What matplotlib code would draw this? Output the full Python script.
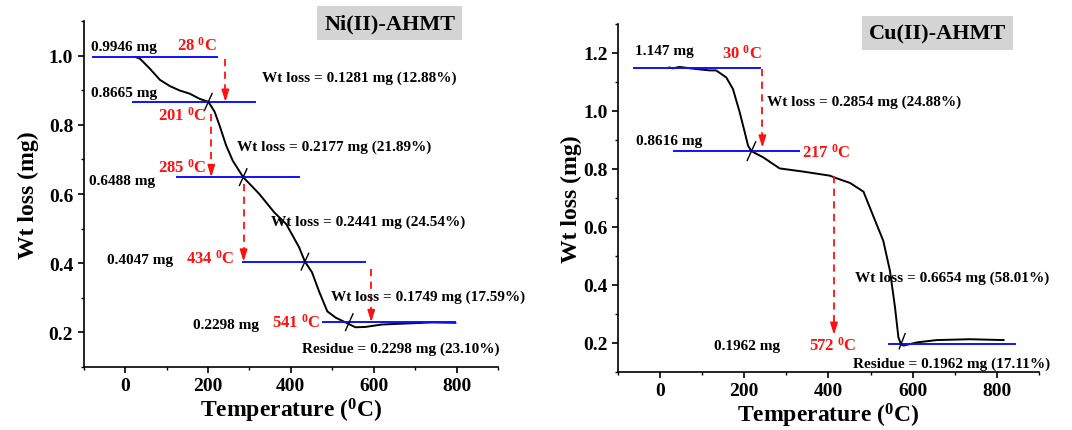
import numpy as np
import matplotlib
matplotlib.use('Agg')
import matplotlib.pyplot as plt
from matplotlib.ticker import MultipleLocator

plt.rcParams['font.family'] = ['Liberation Serif', 'DejaVu Serif']
plt.rcParams['font.weight'] = 'bold'
plt.rcParams['mathtext.default'] = 'regular'

# Ni(II)-AHMT TGA curve
ni_temp = [28, 36, 60, 84, 108, 132, 156, 180, 201, 216, 228, 244, 260, 285, 324, 360,
           389, 420, 434, 451, 468, 488, 508, 532, 556, 580, 620, 680, 740, 797]
ni_wt = [0.9946, 0.991, 0.962, 0.930, 0.912, 0.899, 0.890, 0.875, 0.8665, 0.838, 0.798,
         0.740, 0.696, 0.6488, 0.600, 0.547, 0.513, 0.446, 0.4047, 0.374, 0.319, 0.261,
         0.243, 0.229, 0.215, 0.216, 0.223, 0.226, 0.229, 0.228]

# Cu(II)-AHMT TGA curve
cu_temp = [22, 30, 46, 78, 117, 133, 157, 173, 189, 201, 209, 217, 245, 284, 340, 403,
           423, 451, 483, 498, 506, 530, 546, 558, 566, 572, 578, 610, 657, 736, 816]
cu_wt = [1.150, 1.147, 1.152, 1.146, 1.140, 1.140, 1.116, 1.076, 0.996, 0.927, 0.880,
         0.8616, 0.840, 0.802, 0.791, 0.777, 0.766, 0.752, 0.722, 0.668, 0.639, 0.553,
         0.449, 0.323, 0.220, 0.1962, 0.191, 0.202, 0.210, 0.213, 0.210]

# step levels (mg) and onset temperatures
ni_levels = [0.9946, 0.8665, 0.6488, 0.4047, 0.2298]
ni_steps = [28, 201, 285, 434, 541]
ni_level_span = [(-77, 221), (19, 314), (125, 420), (284, 580), (478, 797)]
ni_losses = ['Wt loss = 0.1281 mg (12.88%)', 'Wt loss = 0.2177 mg (21.89%)',
             'Wt loss = 0.2441 mg (24.54%)', 'Wt loss = 0.1749 mg (17.59%)',
             'Residue = 0.2298 mg (23.10%)']

cu_levels = [1.147, 0.8616, 0.1962]
cu_steps = [30, 217, 572]
cu_level_span = [(-61, 238), (32, 330), (544, 843)]
cu_losses = ['Wt loss = 0.2854 mg (24.88%)', 'Wt loss = 0.6654 mg (58.01%)',
             'Residue = 0.1962 mg (17.11%)']

blue = '#1010ff'
red = '#ff1010'


def deg(t):
    return '%d $^{0}$C' % t


def red_arrow(ax, x, y0, y1):
    # dashed shaft with a solid head
    ax.plot([x, x], [y0, y1 + 0.01], ls=(0, (4, 3)), color=red, lw=1.3)
    ax.annotate('', xy=(x, y1), xytext=(x, y1 + 0.02),
                arrowprops=dict(arrowstyle='-|>,head_length=0.7,head_width=0.22',
                                color=red, lw=1.2, shrinkA=0, shrinkB=0))


def cross(ax, x, y, dx, dy):
    ax.plot([x - dx, x + dx], [y - dy, y + dy], color='black', lw=1.0)


def style(ax, ylim, title, tx, ty, ypad):
    ax.set_xlim(-100, 900)
    ax.set_ylim(*ylim)
    ax.xaxis.set_major_locator(MultipleLocator(200))
    ax.xaxis.set_minor_locator(MultipleLocator(100))
    ax.yaxis.set_major_locator(MultipleLocator(0.2))
    ax.yaxis.set_minor_locator(MultipleLocator(0.1))
    ax.spines['top'].set_visible(False)
    ax.spines['right'].set_visible(False)
    for s in ['left', 'bottom']:
        ax.spines[s].set_linewidth(1.2)
    ax.tick_params(which='major', direction='out', length=4, width=1.2, labelsize=14)
    ax.tick_params(which='minor', direction='out', length=2.5, width=1.0)
    for lab in ax.get_xticklabels() + ax.get_yticklabels():
        lab.set_fontweight('bold')
    ax.set_xlabel('Temperature ($^{0}$C)', fontsize=17, fontweight='bold', labelpad=1)
    ax.set_ylabel('Wt loss (mg)', fontsize=17, fontweight='bold', labelpad=ypad)
    ax.text(tx, ty, title, transform=ax.transAxes, ha='center', va='center',
            fontsize=16, fontweight='bold',
            bbox=dict(facecolor='#d4d4d4', edgecolor='none', pad=5))


fig = plt.figure(figsize=(10.72, 4.31), dpi=100)

# ---- Ni(II)-AHMT ----
ax1 = fig.add_axes([0.078, 0.146, 0.3866, 0.803])
ax1.plot(ni_temp, ni_wt, color='black', lw=1.4)
for lvl, (x0, x1) in zip(ni_levels, ni_level_span):
    ax1.plot([x0, x1], [lvl, lvl], color=blue, lw=1.4)
for t, lvl in zip(ni_steps[1:], ni_levels[1:]):
    cross(ax1, t, lvl, 9, 0.024)

red_arrow(ax1, 242, 0.991, ni_levels[1])
red_arrow(ax1, 208, 0.832, ni_levels[2])
red_arrow(ax1, 286, 0.629, ni_levels[3])
red_arrow(ax1, 594, 0.383, ni_levels[4])

kw = dict(fontsize=11, fontweight='bold', va='center', clip_on=False)
ax1.text(-82, 1.026, '%.4f mg' % ni_levels[0], ha='left', **kw)
ax1.text(-82, 0.893, '%.4f mg' % ni_levels[1], ha='left', **kw)
ax1.text(-86, 0.638, '%.4f mg' % ni_levels[2], ha='left', **kw)
ax1.text(-43, 0.412, '%.4f mg' % ni_levels[3], ha='left', **kw)
ax1.text(163, 0.224, '%.4f mg' % ni_levels[4], ha='left', **kw)

rkw = dict(fontsize=12, fontweight='bold', va='center', ha='center', color=red)
ax1.text(173, 1.030, deg(ni_steps[0]), **rkw)
ax1.text(137, 0.829, deg(ni_steps[1]), **rkw)
ax1.text(137, 0.680, deg(ni_steps[2]), **rkw)
ax1.text(206, 0.417, deg(ni_steps[3]), **rkw)
ax1.text(412, 0.230, deg(ni_steps[4]), **rkw)

ax1.text(331, 0.937, ni_losses[0], ha='left', **kw)
ax1.text(271, 0.737, ni_losses[1], ha='left', **kw)
ax1.text(353, 0.520, ni_losses[2], ha='left', **kw)
ax1.text(497, 0.306, ni_losses[3], ha='left', **kw)
ax1.text(428, 0.153, ni_losses[4], ha='left', **kw)

style(ax1, (0.1, 1.1), 'Ni(II)-AHMT', 0.739, 0.994, 7)

# ---- Cu(II)-AHMT ----
ax2 = fig.add_axes([0.5765, 0.1346, 0.3927, 0.8074])
ax2.plot(cu_temp, cu_wt, color='black', lw=1.4)
for lvl, (x0, x1) in zip(cu_levels, cu_level_span):
    ax2.plot([x0, x1], [lvl, lvl], color=blue, lw=1.4)
cross(ax2, cu_steps[1], cu_levels[1], 10, 0.032)
cross(ax2, cu_steps[2] + 3, cu_levels[2] + 0.01, 7, 0.026)

red_arrow(ax2, 243, 1.145, cu_levels[1] + 0.012)
red_arrow(ax2, 413, 0.777, 0.228)

ax2.text(-60, 1.207, '%.3f mg' % cu_levels[0], ha='left', **kw)
ax2.text(-57, 0.897, '%.4f mg' % cu_levels[1], ha='left', **kw)
ax2.text(128, 0.190, '%.4f mg' % cu_levels[2], ha='left', **kw)

ax2.text(195, 1.200, deg(cu_steps[0]), **rkw)
ax2.text(336, 0.858, deg(cu_steps[1]), ha='left', color=red, fontsize=12,
         fontweight='bold', va='center')
ax2.text(410, 0.195, deg(cu_steps[2]), **rkw)

ax2.text(255, 1.032, cu_losses[0], ha='left', **kw)
ax2.text(462, 0.425, cu_losses[1], ha='left', **kw)
ax2.text(459, 0.131, cu_losses[2], ha='left', **kw)

style(ax2, (0.1, 1.3), 'Cu(II)-AHMT', 0.759, 0.974, 1)

fig.savefig('out.png', dpi=100)
